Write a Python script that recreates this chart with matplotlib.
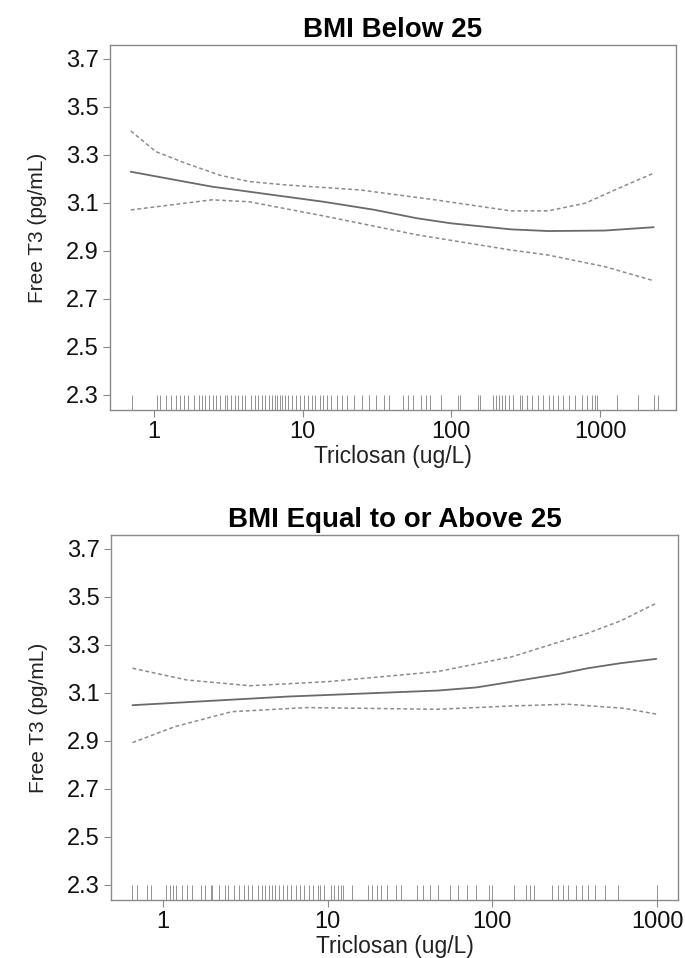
import matplotlib
matplotlib.use("Agg")
import matplotlib.pyplot as plt

# ---- panel 1: BMI below 25 ----
top_fit_x = [0.70, 2.45, 13.8, 30, 59, 100, 251, 447, 1070, 2290]
top_fit_y = [3.230, 3.168, 3.105, 3.072, 3.036, 3.015, 2.990, 2.983, 2.985, 2.999]
top_hi_x = [0.70, 1.03, 1.64, 2.8, 4.37, 7.76, 24.5, 77.6, 251, 447, 794, 1410, 2290]
top_hi_y = [3.400, 3.314, 3.265, 3.215, 3.189, 3.175, 3.154, 3.113, 3.067, 3.067, 3.099, 3.168, 3.224]
top_lo_x = [0.70, 2.45, 4.37, 13.8, 59, 251, 447, 1070, 2290]
top_lo_y = [3.071, 3.113, 3.105, 3.046, 2.967, 2.904, 2.883, 2.835, 2.776]

top_rug = [0.71, 1.05, 1.1, 1.2, 1.3, 1.4, 1.5, 1.6, 1.7, 1.85, 2.0, 2.1, 2.2, 2.35,
           2.5, 2.6, 2.8, 3.0, 3.1, 3.3, 3.5, 3.7, 3.9, 4.1, 4.5, 4.8, 5.0, 5.3, 5.6,
           5.9, 6.2, 6.5, 6.7, 7.0, 7.3, 7.6, 8.0, 8.5, 9.0, 9.6, 10.2, 10.8, 11.5,
           12.2, 13.0, 13.8, 14.5, 15.5, 17, 18.5, 20, 22, 25, 28, 31, 35, 38, 47, 51,
           55, 62, 68, 72, 85, 110, 115, 150, 155, 190, 200, 210, 220, 230, 245, 260,
           290, 300, 320, 350, 380, 410, 450, 480, 520, 560, 620, 680, 750, 820, 880,
           920, 950, 1300, 1800, 2300, 2450]

# ---- panel 2: BMI equal to or above 25 ----
bot_fit_x = [0.655, 5.74, 46.6, 80, 132, 250, 380, 600, 989]
bot_fit_y = [3.049, 3.085, 3.110, 3.123, 3.147, 3.178, 3.203, 3.224, 3.242]
bot_hi_x = [0.655, 1.40, 3.40, 10.0, 46.6, 132, 200, 380, 600, 989]
bot_hi_y = [3.203, 3.154, 3.130, 3.147, 3.189, 3.251, 3.290, 3.349, 3.400, 3.474]
bot_lo_x = [0.655, 1.19, 2.62, 7.45, 46.6, 132, 288, 631, 989]
bot_lo_y = [2.893, 2.960, 3.022, 3.039, 3.032, 3.046, 3.053, 3.036, 3.012]

bot_rug = [0.65, 0.7, 0.8, 0.85, 1.05, 1.1, 1.15, 1.2, 1.3, 1.4, 1.5, 1.7, 1.8, 1.95,
           2.0, 2.2, 2.4, 2.5, 2.7, 2.9, 3.1, 3.3, 3.5, 3.8, 4.0, 4.2, 4.4, 4.6, 4.8,
           5.1, 5.4, 5.7, 6.0, 6.4, 6.8, 7.2, 7.7, 8.2, 8.8, 9.0, 9.5, 10.5, 11.0,
           11.5, 12.0, 12.5, 14, 17.5, 18.5, 20, 21, 23, 26, 28, 35, 38, 42, 47, 55,
           62, 70, 80, 95, 100, 135, 160, 170, 180, 230, 250, 270, 290, 320, 350, 380,
           420, 480, 580, 1000]

y_ticks = [2.3, 2.5, 2.7, 2.9, 3.1, 3.3, 3.5, 3.7]
x_ticks = [1, 10, 100, 1000]

plt.rcParams['font.family'] = ['Liberation Sans', 'DejaVu Sans']

fig = plt.figure(figsize=(6.85, 9.58), dpi=100)
frame_col = '#8a8a8a'


def draw_panel(rect, title, fx, fy, hx, hy, lx, ly, rug, xlim):
    ax = fig.add_axes(rect)
    ax.set_xscale('log')
    ax.plot(fx, fy, color='#6a6a6a', lw=1.3, solid_capstyle='round')
    ax.plot(hx, hy, color='#8c8c8c', lw=1.1, linestyle=(0, (2.5, 1.8)))
    ax.plot(lx, ly, color='#8c8c8c', lw=1.1, linestyle=(0, (2.5, 1.8)))
    ax.vlines(rug, 0, 0.04, transform=ax.get_xaxis_transform(),
              color='#777777', lw=0.7, alpha=0.8)
    ax.set_xlim(xlim)
    ax.set_ylim(2.2375, 3.758)
    ax.set_yticks(y_ticks)
    ax.set_yticklabels([f"{v:.1f}" for v in y_ticks])
    ax.set_xticks(x_ticks)
    ax.set_xticklabels([str(v) for v in x_ticks])
    ax.minorticks_off()
    ax.tick_params(direction='out', length=5, width=0.8, color=frame_col,
                   labelsize=17, pad=3, labelcolor='#111111')
    for s in ax.spines.values():
        s.set_color(frame_col)
        s.set_linewidth(1.0)
    ax.set_title(title, fontsize=20, fontweight='bold', pad=6)
    ax.set_xlabel("Triclosan (ug/L)", fontsize=16.5, labelpad=1, color='#222222')
    ax.set_ylabel("Free T3 (pg/mL)", fontsize=15, labelpad=14, color='#222222')
    return ax


draw_panel([110 / 685, 1 - 410 / 958, 566 / 685, 365 / 958], "BMI Below 25",
           top_fit_x, top_fit_y, top_hi_x, top_hi_y, top_lo_x, top_lo_y,
           top_rug, (10 ** -0.295, 10 ** 3.51))
draw_panel([111 / 685, 1 - 900 / 958, 567 / 685, 365 / 958], "BMI Equal to or Above 25",
           bot_fit_x, bot_fit_y, bot_hi_x, bot_hi_y, bot_lo_x, bot_lo_y,
           bot_rug, (10 ** -0.314, 10 ** 3.127))

fig.savefig("out.png", dpi=100)
